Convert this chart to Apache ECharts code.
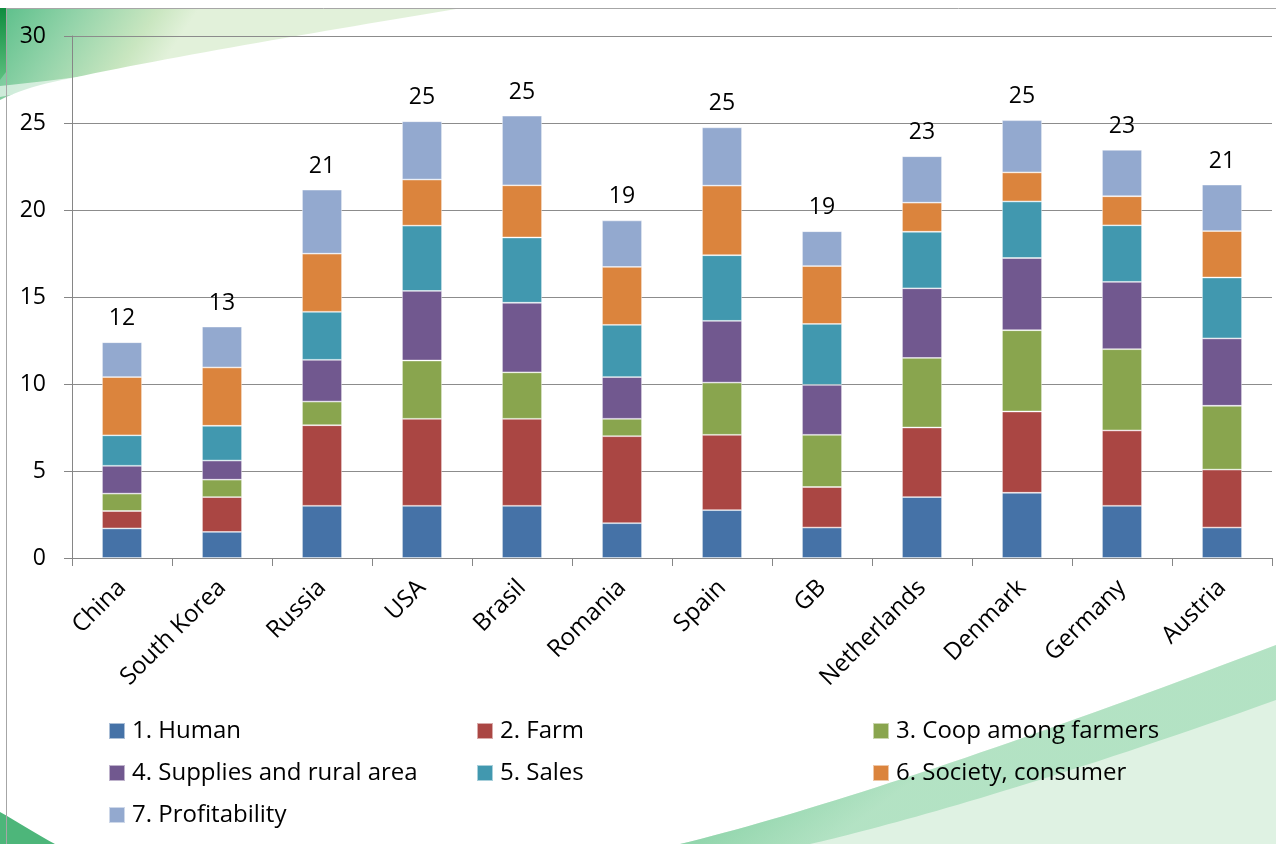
<!DOCTYPE html>
<html>
<head>
<meta charset="utf-8">
<script src="https://cdn.jsdelivr.net/npm/echarts@6/dist/echarts.min.js"></script>
<style>
html,body{margin:0;padding:0;background:#fff;}
#chart{width:1276px;height:844px;}
</style>
</head>
<body>
<div id="chart"></div>
<script>
const categories = ['China','South Korea','Russia','USA','Brasil','Romania','Spain','GB','Netherlands','Denmark','Germany','Austria'];
const seriesNames = ['1. Human','2. Farm','3. Coop among farmers','4. Supplies and rural area','5. Sales','6. Society, consumer','7. Profitability'];
const human    = [1.7, 1.5, 3.0, 3.0, 3.0, 2.0, 2.75, 1.75, 3.5, 3.75, 3.0, 1.75];
const farm     = [1.0, 2.0, 4.63, 5.0, 5.0, 5.0, 4.33, 2.33, 4.0, 4.67, 4.33, 3.33];
const coop     = [1.0, 1.0, 1.36, 3.35, 2.67, 1.0, 3.0, 3.0, 4.0, 4.67, 4.67, 3.67];
const supplies = [1.6, 1.1, 2.4, 4.0, 4.0, 2.4, 3.55, 2.87, 4.0, 4.15, 3.87, 3.87];
const sales    = [1.75, 2.0, 2.76, 3.75, 3.75, 3.0, 3.77, 3.5, 3.25, 3.25, 3.25, 3.5];
const society  = [3.35, 3.35, 3.34, 2.65, 3.0, 3.33, 4.0, 3.33, 1.67, 1.67, 1.67, 2.67];
const profit   = [2.0, 2.35, 3.68, 3.35, 4.0, 2.67, 3.35, 2.0, 2.67, 3.0, 2.67, 2.67];
const totalLabels = ['12','13','21','25','25','19','25','19','23','25','23','21'];
const yTicks = [0, 5, 10, 15, 20, 25, 30];

const colors = ['#4572A7','#AA4643','#89A54E','#71588F','#4198AF','#DB843D','#93A9CF'];
const values = [human, farm, coop, supplies, sales, society, profit];
const FONT = 'Open Sans';
const FS = 23;

// decoration helper: sample a cubic bezier into polygon points
function bez(p0, p1, p2, p3, n) {
  const pts = [];
  for (let k = 0; k <= n; k++) {
    const t = k / n, u = 1 - t;
    pts.push([
      u*u*u*p0[0] + 3*u*u*t*p1[0] + 3*u*t*t*p2[0] + t*t*t*p3[0],
      u*u*u*p0[1] + 3*u*u*t*p1[1] + 3*u*t*t*p2[1] + t*t*t*p3[1]
    ]);
  }
  return pts;
}

const chart = echarts.init(document.getElementById('chart'), null, {renderer:'canvas'});

const series = values.map((v, i) => {
  const s = {
    name: seriesNames[i],
    type: 'bar',
    stack: 'total',
    barWidth: 40,
    data: v,
    itemStyle: {color: colors[i], borderColor: 'rgba(255,255,255,0.55)', borderWidth: 0.8},
    emphasis: {disabled: true}
  };
  if (i === values.length - 1) {
    s.label = {
      show: true, position: 'top', distance: 12,
      fontFamily: FONT, fontSize: FS, color: '#000',
      formatter: p => totalLabels[p.dataIndex]
    };
  }
  return s;
});

const legendPos = [
  [108, 731], [476, 731], [872, 731],
  [108, 773], [476, 773], [872, 773],
  [108, 815]
];
const legends = seriesNames.map((n, i) => ({
  data: [n],
  left: legendPos[i][0],
  top: legendPos[i][1] - 16,
  icon: 'rect',
  itemWidth: 16,
  itemHeight: 16,
  itemGap: 0,
  padding: 0,
  selectedMode: false,
  textStyle: {fontFamily: FONT, fontSize: 24, color: '#000', lineHeight: 32, padding: [0,0,0,2]}
}));

const topSwoosh = [[0,8],[462,8]].concat(bez([462,8],[330,30],[180,55],[72,78],30)).concat(bez([72,78],[40,84],[20,90],[0,100],10));
const topStreak = bez([0,86],[40,82],[70,78],[130,70],10).concat(bez([130,70],[80,82],[40,90],[0,97],10));
const leftStrip = [[0,8],[6,8],[6,72],[0,80]];
const bottomWave = bez([680,844],[820,810],[1020,742],[1276,645],40).concat([[1276,844]]);
const bottomBand = bez([680,844],[820,810],[1020,742],[1276,645],40).concat(bez([1276,700],[1040,785],[880,828],[810,844],40));
const cornerBL = bez([0,812],[18,822],[36,834],[55,844],10).concat([[0,844]]);

const option = {
  animation: false,
  backgroundColor: '#ffffff',
  color: colors,
  graphic: [
    {type:'polygon', z:-10, silent:true, shape:{points: topSwoosh},
      style:{fill:{type:'linear', x:0, y:0, x2:0.3, y2:1, colorStops:[
        {offset:0, color:'#5bbf8a'},{offset:0.4, color:'#92d3a9'},{offset:0.8, color:'#c9e6c0'},{offset:1, color:'#e2f1da'}]}}},
    {type:'polygon', z:-9, silent:true, shape:{points: topStreak}, style:{fill:'rgba(255,255,255,0.6)'}},
    {type:'polygon', z:-9, silent:true, shape:{points: leftStrip},
      style:{fill:{type:'linear', x:0, y:0, x2:0, y2:1, colorStops:[{offset:0, color:'#0e8c3e'},{offset:1, color:'#5cbf7e'}]}}},
    {type:'polygon', z:-10, silent:true, shape:{points: bottomWave},
      style:{fill:{type:'linear', x:0, y:0, x2:0.25, y2:1, colorStops:[
        {offset:0, color:'#a3dab8'},{offset:0.5, color:'#c6e8cf'},{offset:1, color:'#dff2e3'}]}}},
    {type:'polygon', z:-9, silent:true, shape:{points: bottomBand},
      style:{fill:{type:'linear', x:0, y:0, x2:0.25, y2:1, colorStops:[
        {offset:0, color:'rgba(95,193,138,0.9)'},{offset:0.5, color:'rgba(115,202,152,0.85)'},{offset:1, color:'rgba(150,216,175,0.6)'}]}}},
    {type:'polygon', z:-10, silent:true, shape:{points: cornerBL}, style:{fill:'#4db67a'}},
    {type:'line', z:-5, silent:true, shape:{x1:6.5, y1:8, x2:6.5, y2:844}, style:{stroke:'#a6a6a6', lineWidth:1}},
    {type:'line', z:-5, silent:true, shape:{x1:6, y1:8.5, x2:1276, y2:8.5}, style:{stroke:'#a6a6a6', lineWidth:1}}
  ],
  grid: {left: 72, top: 36, width: 1200, height: 522, containLabel: false},
  legend: legends,
  xAxis: {
    type: 'category',
    data: categories,
    boundaryGap: true,
    axisLine: {show: true, lineStyle: {color: '#868686', width: 1}},
    axisTick: {show: true, alignWithLabel: false, length: 8, lineStyle: {color: '#868686'}},
    axisLabel: {rotate: 45, margin: 26, interval: 0, fontFamily: FONT, fontSize: 24, color: '#000'}
  },
  yAxis: {
    type: 'value',
    min: yTicks[0],
    max: yTicks[yTicks.length - 1],
    interval: yTicks[1] - yTicks[0],
    axisLine: {show: true, lineStyle: {color: '#868686', width: 1}},
    axisTick: {show: true, length: 8, lineStyle: {color: '#868686'}},
    axisLabel: {margin: 26, fontFamily: FONT, fontSize: FS, color: '#000'},
    splitLine: {show: true, lineStyle: {color: '#8c8c8c', width: 1}}
  },
  series: series
};
chart.setOption(option);
</script>
</body>
</html>
